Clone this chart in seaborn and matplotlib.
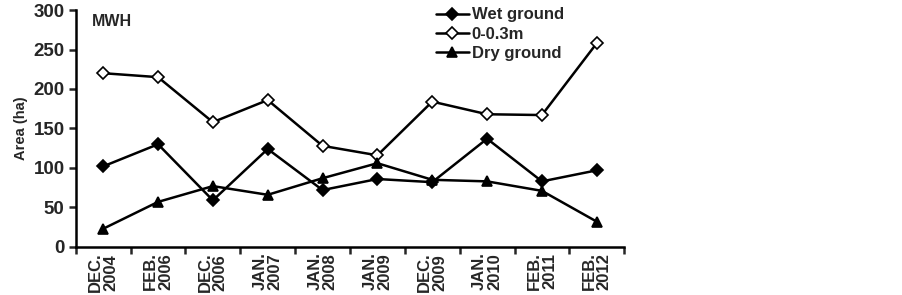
import numpy as np
import pandas as pd
import seaborn as sns
import matplotlib.pyplot as plt

# data
dates = ["DEC.\n2004", "FEB.\n2006", "DEC.\n2006", "JAN.\n2007", "JAN.\n2008",
         "JAN.\n2009", "DEC.\n2009", "JAN.\n2010", "FEB.\n2011", "FEB.\n2012"]
wet_ground = [102, 130, 59, 124, 72, 86, 82, 137, 83, 97]
shallow = [220, 215, 158, 186, 128, 116, 184, 168, 167, 258]
dry_ground = [23, 57, 77, 66, 87, 106, 85, 83, 71, 32]

sns.set_style("white")
plt.rcParams["font.family"] = ["Liberation Sans", "DejaVu Sans"]
plt.rcParams["font.weight"] = "bold"

fig = plt.figure(figsize=(9.02, 2.95), dpi=100)
ax = fig.add_axes([0.084, 0.163, 0.608, 0.803])

pos = np.arange(len(dates))
series = [
    ("Wet ground", wet_ground, "D", "black"),
    ("0-0.3m", shallow, "D", "white"),
    ("Dry ground", dry_ground, "^", "black"),
]
for name, vals, mk, face in series:
    df = pd.DataFrame({"x": pos, "y": vals})
    sns.lineplot(data=df, x="x", y="y", ax=ax, color="black", linewidth=1.8,
                 marker=mk, markersize=6.5 if mk == "D" else 7,
                 markerfacecolor=face, markeredgecolor="black",
                 markeredgewidth=1.2, label=name, sort=False)

ax.set_xlim(-0.5, len(dates) - 0.5)
ax.set_ylim(0, 300)
ax.set_yticks(range(0, 301, 50))
ax.set_xticks(pos)
ax.set_xticklabels(dates, rotation=90, fontsize=12, fontweight="bold",
                   linespacing=1.0)
ax.set_xticks(np.arange(-0.5, len(dates), 1), minor=True)
ax.tick_params(axis="x", which="major", length=0, pad=4)
ax.tick_params(axis="x", which="minor", length=5, width=1.8, direction="out",
               bottom=True)
ax.tick_params(axis="y", length=5, width=1.8, direction="out", left=True,
               labelsize=13.5, pad=3)
for lab in ax.get_yticklabels():
    lab.set_fontweight("bold")

ax.set_xlabel("")
ax.set_ylabel("Area (ha)", fontsize=10.5, fontweight="bold", labelpad=4)

sns.despine(ax=ax)
for side in ["left", "bottom"]:
    ax.spines[side].set_linewidth(1.8)
    ax.spines[side].set_color("black")

ax.text(0.03, 0.985, "MWH", transform=ax.transAxes, fontsize=11.5,
        fontweight="bold", va="top", ha="left")

ax.legend(loc="upper left", bbox_to_anchor=(0.635, 1.06), frameon=False,
          prop={"size": 12, "weight": "bold"}, handlelength=2.0,
          handletextpad=0.15, labelspacing=0.25, borderpad=0.2)

fig.savefig("out.png", dpi=100)
